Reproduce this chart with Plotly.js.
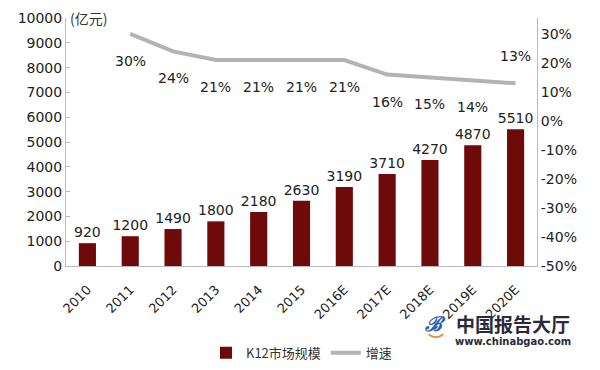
<!DOCTYPE html>
<html><head><meta charset="utf-8">
<script src="https://cdn.plot.ly/plotly-3.0.1.min.js"></script>
<style>body{margin:0;background:#fff}#c{width:600px;height:370px}</style>
</head><body><div id="c"></div>
<script>
var years = ['2010','2011','2012','2013','2014','2015','2016E','2017E','2018E','2019E','2020E'];
var marketSize = [920,1200,1490,1800,2180,2630,3190,3710,4270,4870,5510];
var growthYears = ['2011','2012','2013','2014','2015','2016E','2017E','2018E','2019E','2020E'];
var growth = [30,24,21,21,21,21,16,15,14,13];
var leftTicks = [0,1000,2000,3000,4000,5000,6000,7000,8000,9000,10000];
var rightTicks = [-50,-40,-30,-20,-10,0,10,20,30];

var F = 'DejaVu Sans, Verdana, sans-serif';
var bars = {
  type:'bar', x:years, y:marketSize, name:'K12市场规模',
  marker:{color:'#6e0a0a'}, width:0.4,
  text:marketSize.map(String), textposition:'outside', cliponaxis:false, constraintext:'none',
  textfont:{family:F,size:14,color:'#222'}
};
var line = {
  type:'scatter', mode:'lines', x:growthYears, y:growth, yaxis:'y2', name:'增速',
  line:{color:'#b3b3b3',width:4}
};
var anns = growthYears.map(function(x,i){
  return {x:years.indexOf(x),y:growth[i],yref:'y2',xref:'x',text:growth[i]+'%',showarrow:false,
    yshift:(i===growthYears.length-1)?27:-27,font:{family:F,size:14,color:'#222'}};
});
anns.push({xref:'paper',yref:'paper',x:0.005,y:1.0,xanchor:'left',yanchor:'middle',text:'(亿元)',showarrow:false,
  font:{family:'Noto Sans CJK SC',size:14,color:'#333'}});
anns.push({xref:'paper',yref:'paper',x:0.95,y:-0.23,xanchor:'center',yanchor:'middle',text:'<b>中国报告大厅</b>',showarrow:false,
  font:{family:'Noto Sans CJK SC',size:19,color:'#2a2a3a'}});
anns.push({xref:'paper',yref:'paper',x:0.95,y:-0.305,xanchor:'center',yanchor:'middle',text:'<b>www.chinabgao.com</b>',showarrow:false,
  font:{family:'DejaVu Sans',size:10,color:'#2a2a3a'}});
anns.push({xref:'paper',yref:'paper',x:0.785,y:-0.235,xanchor:'center',yanchor:'middle',text:'<b><i>ℬ</i></b>',showarrow:false,
  font:{family:'DejaVu Serif',size:20,color:'#2b5fb0'}});
anns.push({xref:'paper',yref:'paper',x:0.785,y:-0.30,xanchor:'center',yanchor:'middle',text:'<b>︶</b>',showarrow:false,
  font:{family:'Noto Sans CJK SC',size:16,color:'#e8873a'}});

var layout = {
  width:600,height:370,margin:{l:66,r:63,t:18,b:104,autoexpand:false},
  paper_bgcolor:'#fff',plot_bgcolor:'#fff',showlegend:true,
  font:{family:F,size:14,color:'#222'},
  xaxis:{type:'category',range:[-0.5,10.5],tickangle:-45,showline:true,linecolor:'#bbb',ticks:'',showgrid:false,
    automargin:false,ticklabelstandoff:10,tickfont:{family:F,size:13,color:'#222'}},
  yaxis:{range:[0,10000],tickvals:leftTicks,ticktext:leftTicks.map(String),showline:true,linecolor:'#bbb',ticks:'inside',ticklen:4,tickcolor:'#bbb',
    automargin:false,showgrid:false,zeroline:false,tickfont:{family:F,size:14,color:'#222'}},
  yaxis2:{overlaying:'y',side:'right',range:[-50,35.5],tickvals:rightTicks,ticktext:rightTicks.map(function(v){return v+'%';}),
    automargin:false,showline:true,linecolor:'#bbb',ticks:'',showgrid:false,zeroline:false,tickfont:{family:F,size:14,color:'#222'}},
  legend:{orientation:'h',x:0.5,xanchor:'center',y:-0.35,yanchor:'middle',font:{family:'Noto Sans CJK SC',size:13,color:'#333'}},
  annotations:anns
};
Plotly.newPlot('c',[bars,line],layout,{displayModeBar:false,staticPlot:true});
</script></body></html>
